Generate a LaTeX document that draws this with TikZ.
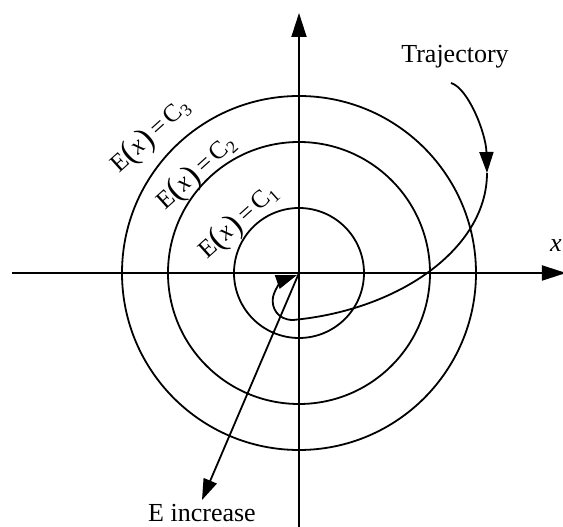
\documentclass[tikz,border=0pt]{standalone}
\usepackage{fontspec}
\setmainfont{Liberation Serif}
\usetikzlibrary{arrows.meta, positioning}
\newcommand{\bigparen}[1]{{\fontsize{33}{33}\selectfont\raisebox{-1.5pt}{#1}}}
\newcommand{\Elevel}[1]{E\bigparen{(}\textit{x}\bigparen{)}\,=\,C\textsubscript{#1}}

\begin{document}
\begin{tikzpicture}[x=1pt, y=1pt, line width=1.8pt,
    axis/.style={-{Triangle[length=24pt,width=15pt]}},
    tip/.style={-{Triangle[length=21pt,width=14pt]}},
    lbl/.style={font=\fontsize{26}{30}\selectfont},
    level/.style={font=\fontsize{25}{28}\selectfont, rotate=42, inner sep=0pt}]
  \useasboundingbox (-299,-254) rectangle (264,273);
  \coordinate (O) at (0,0);
  % osie
  \draw[axis] (-287,0) -- (267,0) coordinate (xend);
  \draw[axis] (0,-260) -- (0,260) coordinate (yend);
  \node[lbl, anchor=base west] (xlab) at (247,21) {\textit{x}\textsubscript{1}};
  % poziomice E(x)=C
  \foreach \r in {65,131,177}{\draw (O) circle (\r);}
  \node[level] (c3) at (-148,137) {\Elevel{3}};
  \node[level] (c2) at (-102,100) {\Elevel{2}};
  \node[level] (c1) at (-60,51) {\Elevel{1}};
  % trajektoria
  \node[lbl] (traj) at (156,216) {Trajectory};
  \coordinate (t0) at (152,190);
  \coordinate (t1) at (188,100);
  \draw[tip] (t0) .. controls (169,185) and (187,140) .. (t1);
  \draw[tip] (t1) .. controls (188,25) and (101,-37) .. (-6,-47)
    .. controls (-21,-47) and (-28,-35) .. (-26,-24)
    .. controls (-24,-15) and (-16,-7) .. (-2,-2);
  % kierunek wzrostu E
  \node[lbl] (einc) at (-97,-240) {E increase};
  \draw[tip] (O) -- (einc.north);
\end{tikzpicture}
\end{document}
